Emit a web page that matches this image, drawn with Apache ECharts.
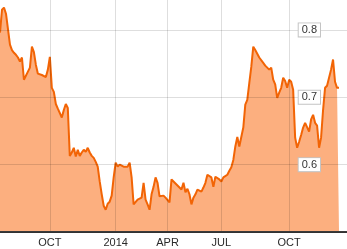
<!DOCTYPE html>
<html>
<head>
<meta charset="utf-8">
<script src="https://cdn.jsdelivr.net/npm/echarts@6/dist/echarts.min.js"></script>
<style>
html,body{margin:0;padding:0;background:#fff;}
#c{width:347px;height:249px;}
</style>
</head>
<body>
<div id="c"></div>
<script>
// Price series sampled at regular steps (null = past the end of the data)
const values = [
  0.796,0.830,0.833,0.824,0.822,0.778,0.770,0.766,0.763,0.759,
  0.753,0.759,0.726,0.726,0.738,0.744,0.775,0.767,0.748,0.735,
  0.733,0.733,0.732,0.730,0.741,0.760,0.714,0.708,0.690,0.683,
  0.681,0.670,0.681,0.690,0.684,0.613,0.618,0.625,0.612,0.622,
  0.613,0.618,0.622,0.619,0.625,0.618,0.613,0.610,0.604,0.597,
  0.575,0.556,0.539,0.533,0.542,0.545,0.554,0.581,0.603,0.597,
  0.600,0.599,0.597,0.597,0.597,0.603,0.581,0.541,0.541,0.548,
  0.550,0.551,0.573,0.548,0.541,0.533,0.556,0.567,0.581,0.573,
  0.553,0.553,0.554,0.551,0.553,0.544,0.578,0.578,0.572,0.569,
  0.569,0.563,0.573,0.559,0.564,0.556,0.541,0.551,0.556,0.563,
  0.563,0.560,0.566,0.573,0.585,0.585,0.581,0.567,0.582,0.581,
  0.578,0.575,0.581,0.581,0.585,0.591,0.596,0.607,0.627,0.641,
  0.627,0.641,0.655,0.689,0.696,0.721,0.745,0.775,0.770,0.770,
  0.759,0.760,0.751,0.747,0.748,0.741,0.744,0.726,0.719,0.699,
  0.707,0.714,0.729,0.724,0.714,0.726,0.723,0.711,0.640,0.625,
  0.634,0.644,0.655,0.662,0.664,0.649,0.667,0.674,0.662,0.658,
  0.625,0.640,0.681,0.714,0.717,0.716,0.741,0.756,0.723,0.714,
  0.714,null,null,null,null
];
// x-axis tick labels and the sample index where each falls
const tickLabels = ['OCT','2014','APR','JUL','OCT'];
const tickAt = [25, 58, 84, 111, 145];
// y-axis ticks
const yMin = 0.5, yMax = 0.9, yStep = 0.1;

const categories = values.map((v, i) => i);
const isTick = (i) => tickAt.indexOf(i) >= 0;

const chart = echarts.init(document.getElementById('c'));
chart.setOption({
  animation: false,
  grid: { left: 0, right: 0, top: -37.5, bottom: 17, containLabel: false, outerBoundsMode: 'none' },
  xAxis: {
    type: 'category',
    data: categories,
    boundaryGap: false,
    z: 5,
    axisLine: { show: true, lineStyle: { color: '#3a3a3a', width: 2 } },
    axisTick: { show: false },
    axisLabel: {
      interval: (i) => isTick(i),
      formatter: (v, i) => { const k = tickAt.indexOf(Number(v)); return k >= 0 ? tickLabels[k] : ''; },
      color: '#2a2a2a',
      fontSize: 11,
      fontFamily: 'Liberation Sans, Arial, sans-serif',
      margin: 5
    },
    splitLine: { show: true, interval: (i) => isTick(i), lineStyle: { color: 'rgba(0,0,0,0.13)', width: 1 } }
  },
  yAxis: {
    type: 'value',
    position: 'right',
    min: yMin, max: yMax, interval: yStep,
    z: 6,
    axisLine: { show: false },
    axisTick: { show: false },
    splitLine: { show: true, lineStyle: { color: 'rgba(0,0,0,0.13)', width: 1 } },
    axisLabel: {
      inside: true,
      showMinLabel: false,
      margin: 27,
      formatter: (v) => v.toFixed(1),
      color: '#333',
      fontSize: 11,
      fontFamily: 'Liberation Sans, Arial, sans-serif',
      backgroundColor: '#fff',
      borderColor: '#c4c4c4',
      borderWidth: 1,
      padding: [1, 3, 1, 3]
    }
  },
  series: [{
    type: 'line',
    data: values,
    symbol: 'none',
    smooth: false,
    z: 2,
    lineStyle: { color: '#f26405', width: 2 },
    areaStyle: { color: '#fcaf7f', opacity: 1 }
  }]
});
</script>
</body>
</html>
